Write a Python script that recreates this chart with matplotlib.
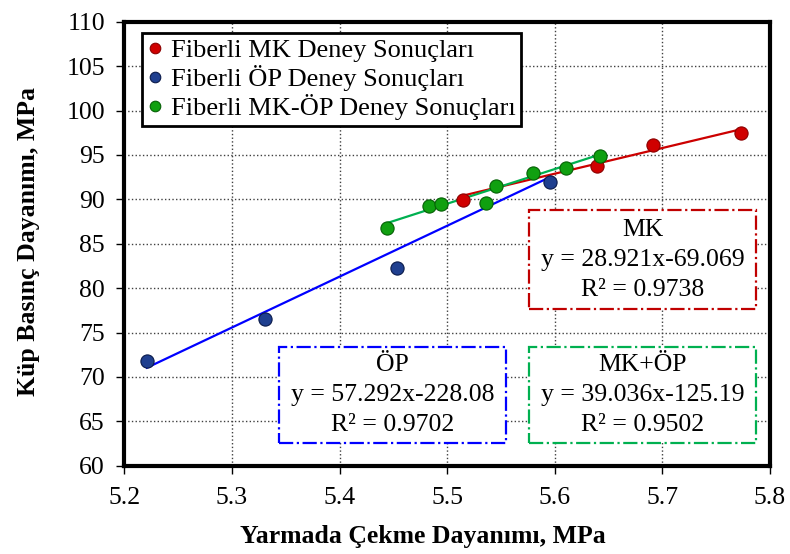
import matplotlib.pyplot as plt
import numpy as np
from matplotlib.patches import Rectangle

plt.rcParams['font.family'] = ['Liberation Serif', 'DejaVu Serif']

# measured points
mk_x = [5.515, 5.639, 5.691, 5.773]
mk_y = [89.9, 93.7, 96.1, 97.5]
op_x = [5.221, 5.331, 5.453, 5.596]
op_y = [71.8, 76.5, 82.3, 91.9]
mkop_x = [5.444, 5.483, 5.494, 5.536, 5.545, 5.580, 5.610, 5.642]
mkop_y = [86.8, 89.3, 89.5, 89.6, 91.5, 93.0, 93.5, 94.9]

# trend lines as printed on the chart (slope, intercept, R2)
mk_fit = (28.921, -69.069, 0.9738)
op_fit = (57.292, -228.08, 0.9702)
mkop_fit = (39.036, -125.19, 0.9502)

labels = ['Fiberli MK Deney Sonuçları', 'Fiberli ÖP Deney Sonuçları', 'Fiberli MK-ÖP Deney Sonuçları']

fig = plt.figure(figsize=(7.9, 5.54), dpi=100)
ax = fig.add_axes([0.1573, 0.1592, 0.8174, 0.8016])

def trend(xs, fit, color):
    xx = np.array([min(xs), max(xs)])
    ax.plot(xx, fit[0] * xx + fit[1], color=color, lw=1.6, zorder=3)

trend(mk_x, mk_fit, '#CC0000')
trend(op_x, op_fit, '#0000FF')
trend(mkop_x, mkop_fit, '#00B050')

ax.plot(mk_x, mk_y, 'o', ms=9.5, color='#D00000', mec='#8B0000', mew=0.8, label=labels[0], zorder=4)
ax.plot(op_x, op_y, 'o', ms=9.5, color='#1F3F8F', mec='#0A1A4A', mew=0.8, label=labels[1], zorder=4)
ax.plot(mkop_x, mkop_y, 'o', ms=9.5, color='#10A010', mec='#056005', mew=0.8, label=labels[2], zorder=4)

ax.set_xlim(5.2, 5.8)
ax.set_ylim(60, 110)
ax.set_xticks(np.arange(5.2, 5.81, 0.1))
ax.set_yticks(np.arange(60, 111, 5))
ax.set_xticklabels(['5.2', '5.3', '5.4', '5.5', '5.6', '5.7', '5.8'])
ax.tick_params(labelsize=18.5, direction='out', length=6, width=1)
ax.tick_params(axis='y', pad=8)
ax.tick_params(axis='x', pad=9)
ax.grid(True, ls=':', color='0.25', lw=1)
ax.set_axisbelow(True)
for s in ax.spines.values():
    s.set_linewidth(3)

ax.set_xlabel('Yarmada Çekme Dayanımı, MPa', fontsize=18.5, fontweight='bold', va='center')
ax.set_ylabel('Küp Basınç Dayanımı, MPa', fontsize=18.5, fontweight='bold', va='center')
ax.xaxis.set_label_coords(0.463, -0.160)
ax.yaxis.set_label_coords(-0.149, 0.505)

leg = ax.legend(loc='upper left', bbox_to_anchor=(0.027, 0.974), borderaxespad=0,
                fontsize=19, markerscale=0.8, handlelength=0.6, handletextpad=0.3,
                labelspacing=0.12, borderpad=0.2, fancybox=False, framealpha=1)
leg.get_frame().set_edgecolor('black')
leg.get_frame().set_linewidth(2)

def eq_box(x0, x1, y0, y1, color, title, fit):
    ax.add_patch(Rectangle((x0, y0), x1 - x0, y1 - y0, transform=ax.transAxes,
                           facecolor='white', edgecolor=color, lw=1.6, ls='-.', zorder=5))
    cx = (x0 + x1) / 2
    cy = (y0 + y1) / 2
    if abs(fit[1]) >= 100:
        eq = f'y = {fit[0]:.3f}x{fit[1]:.2f}'
    else:
        eq = f'y = {fit[0]:.3f}x{fit[1]:.3f}'
    lines = [title, eq, f'R² = {fit[2]:.4f}']
    for i, t in enumerate(lines):
        ax.text(cx, cy + (1 - i) * 0.068, t, transform=ax.transAxes, ha='center', va='center',
                fontsize=18.5, zorder=6)

eq_box(0.627, 0.978, 0.352, 0.576, '#C00000', 'MK', mk_fit)
eq_box(0.2396, 0.5907, 0.0507, 0.268, '#0000FF', 'ÖP', op_fit)
eq_box(0.627, 0.978, 0.0507, 0.268, '#00B050', 'MK+ÖP', mkop_fit)

fig.savefig('out.png', dpi=100)
